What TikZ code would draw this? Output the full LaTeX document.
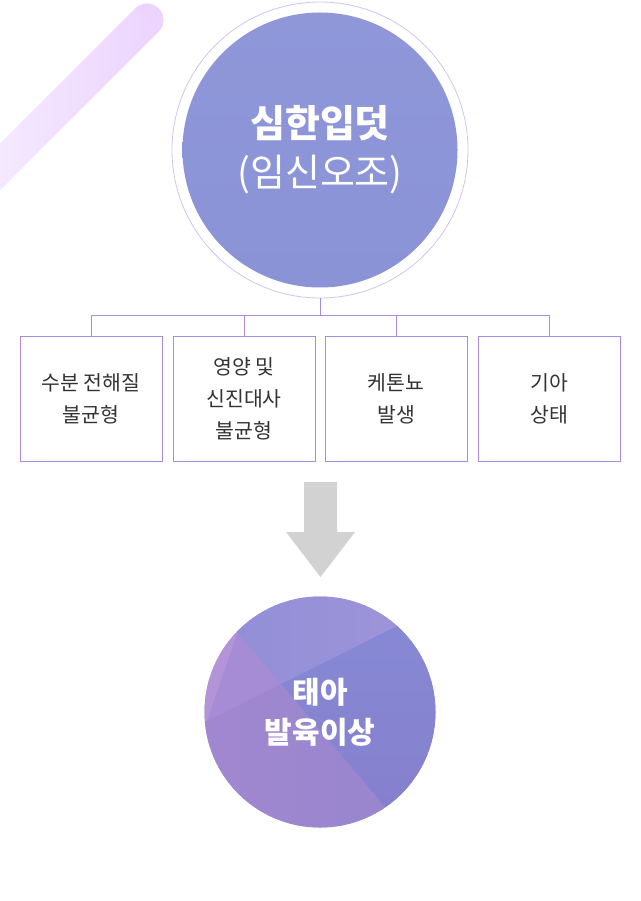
\documentclass[tikz,border=0pt]{standalone}
\usepackage{fontspec}
\setmainfont{Noto Sans CJK KR}
\definecolor{barDark}{HTML}{ECD4FE}
\definecolor{barLight}{HTML}{F8F0FF}
\definecolor{ringc}{HTML}{CBC6F0}
\definecolor{topA}{HTML}{8F97D9}
\definecolor{topB}{HTML}{8A93D6}
\definecolor{boxc}{HTML}{A98BE5}
\definecolor{textc}{HTML}{333333}
\definecolor{arrowc}{HTML}{D2D2D2}
\definecolor{fLeft}{HTML}{A68CD5}
\definecolor{fSliver}{HTML}{B394D8}
\definecolor{fTopA}{HTML}{8F8ED8}
\definecolor{fTopB}{HTML}{A295D9}
\definecolor{fRightA}{HTML}{878AD7}
\definecolor{fRightB}{HTML}{857ECB}
\definecolor{fBotA}{HTML}{A287D0}
\definecolor{fBotB}{HTML}{9686CE}
\begin{document}
\begin{tikzpicture}[x=1pt,y=-1pt,
  boxn/.style={draw=boxc, line width=1pt, minimum width=142pt, minimum height=125pt,
    inner sep=0pt, text=textc, align=center, font=\fontsize{20.5}{32}\selectfont},
  conn/.style={draw=boxc, line width=1pt},
  bigtxt/.style={text=white, inner sep=0pt}]
\useasboundingbox (0,0) rectangle (640,901);
\clip (0,0) rectangle (640,901);
% decorative diagonal bar
\fill[barDark] (147,20) circle (16.5pt);
\shade[left color=barLight, right color=barDark]
  (135.33,8.33) -- (-62.67,206.33) -- (-39.33,229.67) -- (158.67,31.67) -- cycle;
% top circle
\node[circle, draw=ringc, line width=0.8pt, minimum size=296pt, inner sep=0pt] (ring) at (320,150) {};
\node[circle, top color=topA, bottom color=topB, minimum size=275pt, inner sep=0pt] (main) at (320,150) {};
\node[bigtxt, font=\bfseries\fontsize{38}{38}\selectfont] (t1) at (320,123) {심한입덧};
\node[bigtxt, font=\fontsize{38}{38}\selectfont] (t2) at (320,175) {(임신오조)};
% boxes
\node[boxn] (b1) at (91,398.5) {수분 전해질\\불균형};
\node[boxn] (b2) at (244,398.5) {영양 및\\신진대사\\불균형};
\node[boxn] (b3) at (396,398.5) {케톤뇨\\발생};
\node[boxn] (b4) at (549,398.5) {기아\\상태};
% connectors
\coordinate (hub) at (320,315);
\draw[conn] (ring.south) -- (hub);
\draw[conn] (hub) -| (b1.north);
\draw[conn] (hub) -| (b2.north);
\draw[conn] (hub) -| (b3.north);
\draw[conn] (hub) -| (b4.north);
% block arrow
\fill[arrowc] (304,482) -- (337,482) -- (337,532) -- (355,532) -- (320.5,577) -- (286,532) -- (304,532) -- cycle;
% bottom circle
\node[circle, minimum size=231pt, inner sep=0pt] (fetal) at (320,712) {};
\begin{scope}
  \clip (fetal.center) circle (115.5pt);
  \fill[fLeft] (fetal.center) circle (116pt);
  \fill[fSliver] (246,607) -- (199.8,742) -- (180,742) -- (180,607) -- cycle;
  \shade[left color=fTopA, right color=fTopB] (281,684) -- (195,582) -- (195,560) -- (460,560) -- (460,594.5) -- cycle;
  \shade[top color=fRightA, bottom color=fRightB] (281,684) -- (460,594.5) -- (460,850) -- (421,850) -- cycle;
  \shade[left color=fBotA, right color=fBotB] (281,684) -- (421,850) -- (190,850) -- (190,729.5) -- cycle;
\end{scope}
\node[bigtxt, font=\bfseries\fontsize{30}{30}\selectfont] (t3) at (320,692) {태아};
\node[bigtxt, font=\bfseries\fontsize{30}{30}\selectfont] (t4) at (320,732) {발육이상};
\end{tikzpicture}
\end{document}
